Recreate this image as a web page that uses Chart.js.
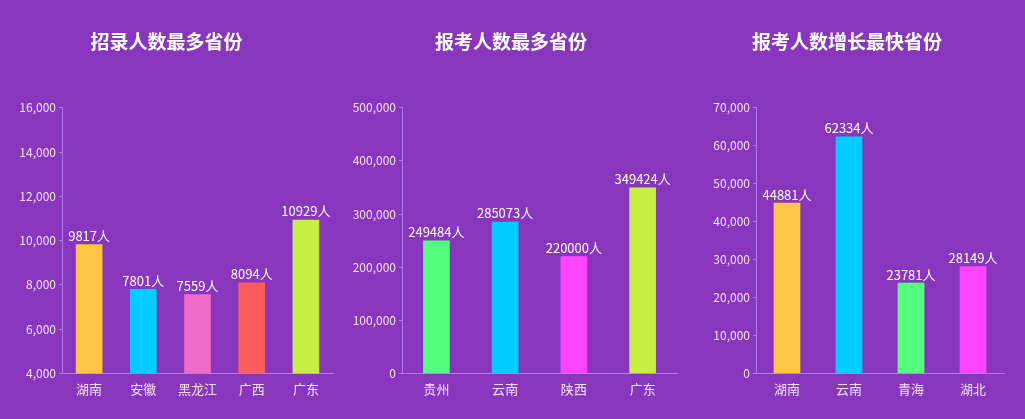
<!DOCTYPE html>
<html>
<head>
<meta charset="utf-8">
<script src="https://cdn.jsdelivr.net/npm/chart.js@4.4.0/dist/chart.umd.min.js"></script>
<style>
  html, body { margin: 0; padding: 0; background: #8936bf; }
  body { width: 1025px; height: 419px; position: relative; overflow: hidden; }
  .box { position: absolute; top: 0; height: 419px; }
</style>
</head>
<body>
<div class="box" style="left:0;width:340px"><canvas id="c1"></canvas></div>
<div class="box" style="left:345px;width:340px"><canvas id="c2"></canvas></div>
<div class="box" style="left:690px;width:334px"><canvas id="c3"></canvas></div>
<script>
"use strict";

// chart 1: 招录人数最多省份
const hireLabels = ["湖南", "安徽", "黑龙江", "广西", "广东"];
const hireValues = [9817, 7801, 7559, 8094, 10929];
const hireColors = ["#ffc444", "#00ccff", "#f06bc8", "#ff5c5c", "#c8ee44"];

// chart 2: 报考人数最多省份
const applyLabels = ["贵州", "云南", "陕西", "广东"];
const applyValues = [249484, 285073, 220000, 349424];
const applyColors = ["#55ff80", "#00ccff", "#ff44ff", "#c8ee44"];

// chart 3: 报考人数增长最快省份
const growthLabels = ["湖南", "云南", "青海", "湖北"];
const growthValues = [44881, 62334, 23781, 28149];
const growthColors = ["#ffc444", "#00ccff", "#55ff80", "#ff44ff"];

const AXIS_COLOR = "#b27cf0";
const TEXT_COLOR = "#f6e4f6";
const FONT = "'Noto Sans CJK SC', 'Noto Sans', sans-serif";

// value labels above each bar, e.g. "9817人"
const valueLabels = {
    id: "valueLabels",
    afterDatasetsDraw(chart) {
        const ctx = chart.ctx;
        const meta = chart.getDatasetMeta(0);
        const data = chart.data.datasets[0].data;
        ctx.save();
        ctx.font = "13px " + FONT;
        ctx.fillStyle = "#ffffff";
        ctx.textAlign = "center";
        ctx.textBaseline = "bottom";
        meta.data.forEach((bar, i) => {
            ctx.fillText(data[i] + "人", bar.x, bar.y - 2);
        });
        ctx.restore();
    }
};

function makeChart(id, title, labels, values, colors, yMin, yMax, yStep, yWidth, padRight) {
    return new Chart(document.getElementById(id), {
        type: "bar",
        data: {
            labels: labels,
            datasets: [{
                data: values,
                backgroundColor: colors,
                borderWidth: 0,
                barThickness: 26
            }]
        },
        options: {
            responsive: true,
            maintainAspectRatio: false,
            animation: false,
            layout: { padding: { left: 0, right: padRight, top: 0, bottom: 14 } },
            plugins: {
                legend: { display: false },
                tooltip: { enabled: false },
                title: {
                    display: true,
                    text: title,
                    color: "#ffffff",
                    font: { family: FONT, size: 19, weight: "bold" },
                    padding: { top: 30, bottom: 55 }
                }
            },
            scales: {
                x: {
                    grid: { display: false, tickLength: 0 },
                    border: { display: true, color: AXIS_COLOR, width: 1 },
                    ticks: {
                        color: TEXT_COLOR,
                        font: { family: FONT, size: 13 },
                        padding: 8
                    }
                },
                y: {
                    min: yMin,
                    max: yMax,
                    afterFit: scale => { scale.width = yWidth; },
                    grid: {
                        display: true,
                        drawOnChartArea: false,
                        drawTicks: true,
                        tickLength: 3,
                        color: AXIS_COLOR
                    },
                    border: { display: true, color: AXIS_COLOR, width: 1 },
                    ticks: {
                        stepSize: yStep,
                        color: TEXT_COLOR,
                        font: { family: FONT, size: 12 },
                        padding: 3
                    }
                }
            }
        },
        plugins: [valueLabels]
    });
}

makeChart("c1", "招录人数最多省份", hireLabels, hireValues, hireColors, 4000, 16000, 2000, 62, 7);
makeChart("c2", "报考人数最多省份", applyLabels, applyValues, applyColors, 0, 500000, 100000, 57, 8);
makeChart("c3", "报考人数增长最快省份", growthLabels, growthValues, growthColors, 0, 70000, 10000, 66, 20);
</script>
</body>
</html>
